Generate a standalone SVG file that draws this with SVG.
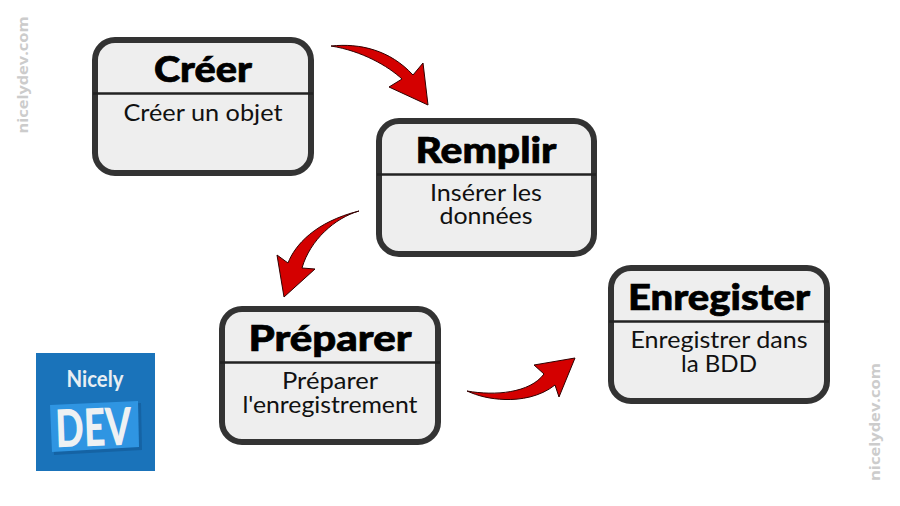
<svg xmlns="http://www.w3.org/2000/svg" width="900" height="506" viewBox="0 0 900 506">
<style>
.box{fill:#eeeeee;stroke:#333333;stroke-width:6}
.div{stroke:#222222;stroke-width:2.5}
.t{font-family:"Lato","Noto Sans",sans-serif;font-weight:900;font-size:36px;fill:#000;stroke:#000;stroke-width:.7;text-anchor:middle}
.b{font-family:"Lato","Noto Sans",sans-serif;font-weight:400;font-size:23px;fill:#111;text-anchor:middle}
.arrow{fill:#d40000;stroke:#300000;stroke-width:1;stroke-linejoin:miter}
.wm{font-family:"Open Sans","Liberation Sans",sans-serif;font-weight:700;font-size:15px;fill:#cccccc;text-anchor:middle}
</style>
<rect width="900" height="506" fill="#ffffff"/>
<g id="connectors">
<path class="arrow" d="M331 46C360 43 390 50 413 75L423 63L428 105L389 87L402 79C388 66 362 51 331 46Z"/>
<path class="arrow" d="M359 211C335 218 310 240 302 268L315 269L284 297L277 255L288 263C295 245 315 222 359 211Z"/>
<path class="arrow" d="M467 391C495 396 530 393 544 374L534 365L575 358L559 397L555 385C540 397 520 400 505 399.500C490 399 478 396 467 391Z"/>
</g>
<g id="node-creer">
<rect class="box" x="95" y="40" width="216" height="133" rx="20"/>
<line class="div" x1="93" y1="93.500" x2="313" y2="93.500"/>
<text class="t" x="203" y="82" textLength="98" lengthAdjust="spacingAndGlyphs">Créer</text>
<text class="b" x="203" y="121" textLength="159" lengthAdjust="spacingAndGlyphs">Créer un objet</text>
</g>
<g id="node-remplir">
<rect class="box" x="379" y="121" width="215" height="133" rx="20"/>
<line class="div" x1="377" y1="174.500" x2="596" y2="174.500"/>
<text class="t" x="486" y="163" textLength="141" lengthAdjust="spacingAndGlyphs">Remplir</text>
<text class="b" x="486" y="201" textLength="112" lengthAdjust="spacingAndGlyphs">Insérer les</text>
<text class="b" x="486" y="224" textLength="93" lengthAdjust="spacingAndGlyphs">données</text>
</g>
<g id="node-preparer">
<rect class="box" x="222" y="309" width="216" height="133" rx="20"/>
<line class="div" x1="220" y1="362.500" x2="440" y2="362.500"/>
<text class="t" x="330" y="351" textLength="163" lengthAdjust="spacingAndGlyphs">Préparer</text>
<text class="b" x="330" y="389" textLength="96" lengthAdjust="spacingAndGlyphs">Préparer</text>
<text class="b" x="330" y="413" textLength="175" lengthAdjust="spacingAndGlyphs">l'enregistrement</text>
</g>
<g id="node-enregister">
<rect class="box" x="611" y="268" width="216" height="133" rx="20"/>
<line class="div" x1="609" y1="321.500" x2="829" y2="321.500"/>
<text class="t" x="719" y="310" textLength="182" lengthAdjust="spacingAndGlyphs">Enregister</text>
<text class="b" x="719" y="348" textLength="177" lengthAdjust="spacingAndGlyphs">Enregistrer dans</text>
<text class="b" x="719" y="372" textLength="76" lengthAdjust="spacingAndGlyphs">la BDD</text>
</g>
<g id="logo">
<rect x="36" y="353" width="119" height="118" fill="#1a73ba"/>
<polygon points="52,407 141,403 142,450 54,455" fill="#1563a4"/>
<polygon points="50,405 138,401 139,447 52,452" fill="#2f95e2"/>
<text x="95" y="387" font-family="Lato,sans-serif" font-weight="700" font-size="23" fill="#e8eef2" text-anchor="middle" textLength="57" lengthAdjust="spacingAndGlyphs">Nicely</text>
<text x="94" y="446" font-family="Lato,sans-serif" font-weight="900" font-size="52" fill="#eef1f3" text-anchor="middle" textLength="76" lengthAdjust="spacingAndGlyphs" transform="rotate(-2 94 446)">DEV</text>
</g>
<text class="wm" transform="translate(28 75) rotate(-90)" textLength="117" lengthAdjust="spacingAndGlyphs">nicelydev.com</text>
<text class="wm" transform="translate(880 422) rotate(-90)" textLength="118" lengthAdjust="spacingAndGlyphs">nicelydev.com</text>
</svg>
